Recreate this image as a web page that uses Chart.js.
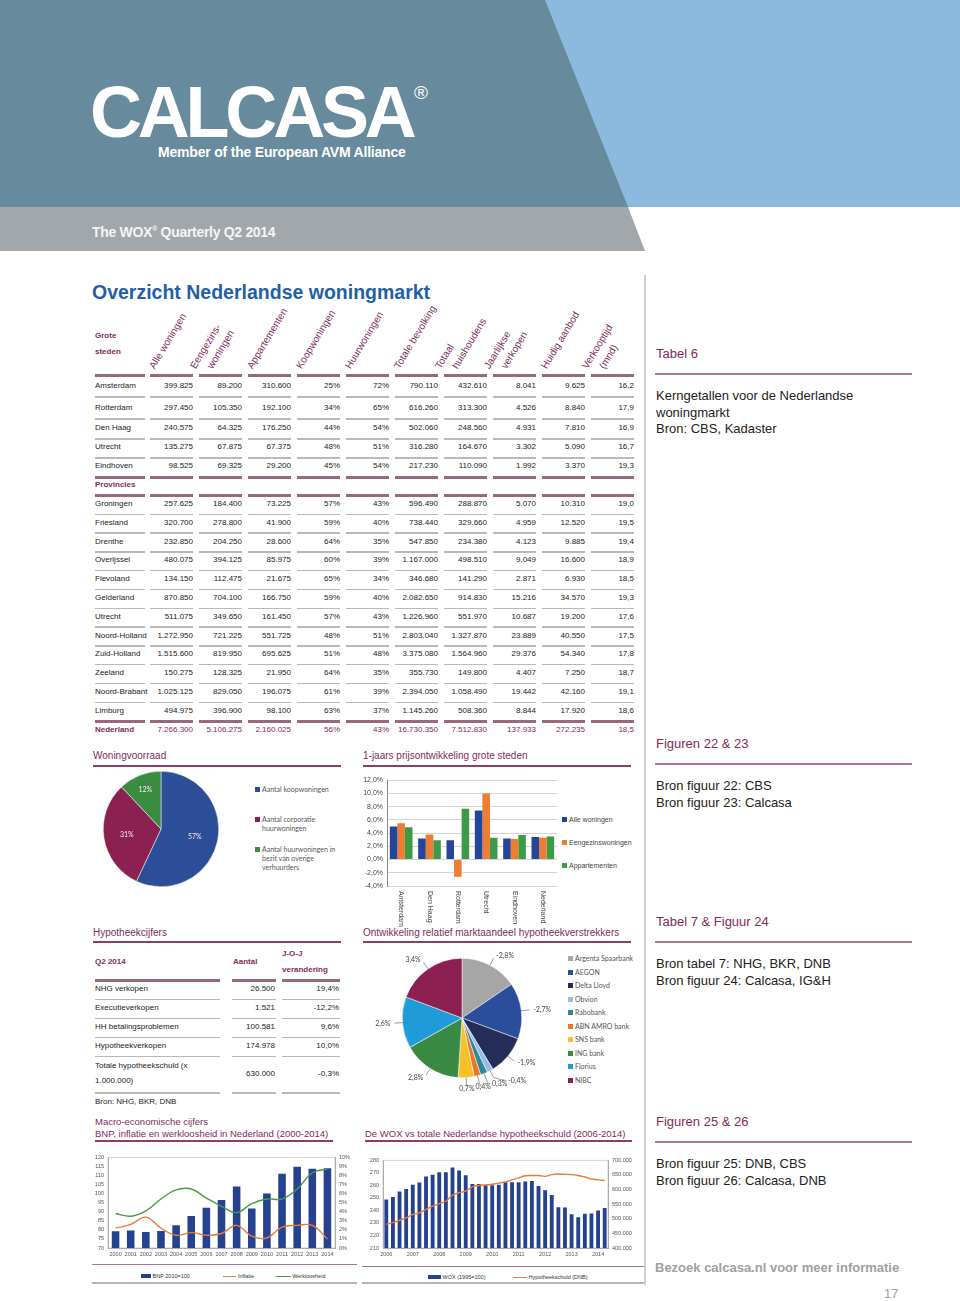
<!DOCTYPE html>
<html>
<head>
<meta charset="utf-8">
<script src="https://cdn.jsdelivr.net/npm/chart.js@4"></script>
<style>
    body { margin: 0; background: #fff; }
    #page { position: relative; width: 960px; height: 1301px; overflow: hidden; font-family: 'Liberation Sans', Arial, sans-serif; }
    .abs { position: absolute; white-space: nowrap; }
    canvas { position: absolute; }
    .purple { color: #7e2c5c; }
    .side { position: absolute; left: 656px; font-size: 13px; color: #222; line-height: 16.5px; }
    .sidehead { position: absolute; left: 656px; font-size: 13px; color: #7e2c5c; }
    .sideline { position: absolute; left: 655px; width: 257px; height: 2px; background: #b07391; }
    .sw { display: inline-block; width: 5px; height: 5px; margin-right: 2px; vertical-align: 0px; }
</style>
</head>
<body>
<div id="page">
    <!-- header -->
    <div class="abs" style="left:0;top:0;width:960px;height:207px;background:#678a9c;"></div>
    <div class="abs" style="left:0;top:0;width:960px;height:207px;background:#8bbade;clip-path:polygon(545px 0,960px 0,960px 207px,628px 207px);"></div>
    <div class="abs" style="left:0;top:207px;width:960px;height:44px;background:#a1a7aa;clip-path:polygon(0 0,628px 0,645px 44px,0 44px);"></div>
    <div class="abs" style="left:90px;top:84px;font-size:72px;font-weight:bold;color:#fff;letter-spacing:-4.2px;line-height:56px;height:56px;">CALCASA</div>
    <div class="abs" style="left:414px;top:83px;font-size:19px;color:#fff;line-height:20px;">®</div>
    <div class="abs" style="left:158px;top:144px;font-size:14px;font-weight:bold;color:#fff;line-height:16px;letter-spacing:-0.2px;">Member of the European AVM Alliance</div>
    <div class="abs" style="left:92px;top:220px;font-size:14px;font-weight:bold;color:#f5f5f5;line-height:18px;letter-spacing:-0.3px;">The WOX<sup style="font-size:7px;">®</sup> Quarterly Q2 2014</div>

    <div class="abs" style="left:92px;top:279px;font-size:19.5px;font-weight:bold;color:#1f5fa8;line-height:26px;">Overzicht Nederlandse woningmarkt</div>

    <!-- right column -->
    <div class="abs" style="left:644px;top:275px;width:2px;height:1010px;background:#d0d0d0;"></div>
    <div class="sidehead" style="top:346px;">Tabel 6</div>
    <div class="sideline" style="top:373px;"></div>
    <div class="side" style="top:388px;">Kerngetallen voor de Nederlandse<br>woningmarkt<br>Bron: CBS, Kadaster</div>
    <div class="sidehead" style="top:736px;">Figuren 22 &amp; 23</div>
    <div class="sideline" style="top:763px;"></div>
    <div class="side" style="top:778px;">Bron figuur 22: CBS<br>Bron figuur 23: Calcasa</div>
    <div class="sidehead" style="top:914px;">Tabel 7 &amp; Figuur 24</div>
    <div class="sideline" style="top:941px;"></div>
    <div class="side" style="top:956px;">Bron tabel 7: NHG, BKR, DNB<br>Bron figuur 24: Calcasa, IG&amp;H</div>
    <div class="sidehead" style="top:1114px;">Figuren 25 &amp; 26</div>
    <div class="sideline" style="top:1141px;"></div>
    <div class="side" style="top:1156px;">Bron figuur 25: DNB, CBS<br>Bron figuur 26: Calcasa, DNB</div>
    <div class="abs" style="left:655px;top:1260px;font-size:13px;font-weight:bold;color:#a0a0a0;">Bezoek calcasa.nl voor meer informatie</div>
    <div class="abs" style="left:884px;top:1286px;font-size:13px;color:#a0a0a0;">17</div>

    <!-- section titles -->
    <div class="abs purple" style="left:93px;top:750px;font-size:10px;">Woningvoorraad</div>
    <div class="abs" style="left:93px;top:765px;width:248px;height:2px;background:#8e3d68;"></div>
    <div class="abs purple" style="left:363px;top:750px;font-size:10px;">1-jaars prijsontwikkeling grote steden</div>
    <div class="abs" style="left:363px;top:765px;width:268px;height:2px;background:#8e3d68;"></div>
    <div class="abs purple" style="left:93px;top:927px;font-size:10px;">Hypotheekcijfers</div>
    <div class="abs" style="left:93px;top:941px;width:248px;height:2px;background:#8e3d68;"></div>
    <div class="abs purple" style="left:363px;top:927px;font-size:10px;">Ontwikkeling relatief marktaandeel hypotheekverstrekkers</div>
    <div class="abs" style="left:363px;top:941px;width:268px;height:2px;background:#8e3d68;"></div>
    <div class="abs purple" style="left:95px;top:1116px;font-size:9.5px;line-height:12px;">Macro-economische cijfers<br>BNP, inflatie en werkloosheid in Nederland (2000-2014)</div>
    <div class="abs" style="left:95px;top:1140px;width:238px;height:2px;background:#8e3d68;"></div>
    <div class="abs purple" style="left:365px;top:1128px;font-size:9.5px;line-height:12px;">De WOX vs totale Nederlandse hypotheekschuld (2006-2014)</div>
    <div class="abs" style="left:365px;top:1140px;width:267px;height:2px;background:#8e3d68;"></div>

    <!-- chart legends -->
    <div class="abs" style="left:255px;top:785px;font-family:Lato,sans-serif;font-size:7px;color:#555;line-height:9px;">
        <div><span class="sw" style="background:#2c4d98"></span>Aantal koopwoningen</div>
        <div style="margin-top:21px;"><span class="sw" style="background:#8c2051"></span>Aantal corporatie<br><span style="padding-left:7px">huurwoningen</span></div>
        <div style="margin-top:12px;"><span class="sw" style="background:#3a8c41"></span>Aantal huurwoningen in<br><span style="padding-left:7px">bezit van overige</span><br><span style="padding-left:7px">verhuurders</span></div>
    </div>
    <div class="abs" style="left:562px;top:814px;font-size:7px;color:#444;line-height:11px;">
        <div><span class="sw" style="background:#24459a"></span>Alle woningen</div>
        <div style="margin-top:12px;"><span class="sw" style="background:#ee7d32"></span>Eengezinswoningen</div>
        <div style="margin-top:12px;"><span class="sw" style="background:#3d9a47"></span>Appartementen</div>
    </div>
    <div id="bankLegend" class="abs" style="left:568px;top:952px;font-family:Lato,sans-serif;font-size:7px;color:#555;line-height:13.5px;"></div>

    <div class="abs" style="left:92px;top:1264px;width:265px;height:1px;background:#a47a8f;"></div>
    <div class="abs" style="left:92px;top:1282px;width:265px;height:1.5px;background:#b5b5b5;"></div>
    <div class="abs" style="left:141px;top:1272px;font-size:5.5px;color:#333;line-height:8px;">
        <span style="display:inline-block;width:10px;height:4px;background:#25418f;vertical-align:0;"></span> BNP 2010=100
        <span style="display:inline-block;width:13px;height:1.5px;background:#e87b35;vertical-align:1px;margin-left:32px;"></span> Inflatie
        <span style="display:inline-block;width:15px;height:1.5px;background:#4a9a44;vertical-align:1px;margin-left:20px;"></span> Werkloosheid
    </div>
    <div class="abs" style="left:362px;top:1266px;width:282px;height:1px;background:#a47a8f;"></div>
    <div class="abs" style="left:362px;top:1282px;width:282px;height:1.5px;background:#b5b5b5;"></div>
    <div class="abs" style="left:428px;top:1273px;font-size:5.5px;color:#333;line-height:8px;">
        <span style="display:inline-block;width:13px;height:4px;background:#25418f;vertical-align:0;"></span> WOX (1995=100)
        <span style="display:inline-block;width:14px;height:1.5px;background:#e87b35;vertical-align:1px;margin-left:26px;"></span> Hypotheekschuld (DNB)
    </div>

    <canvas id="stockChart" width="130" height="130" style="left:96px;top:764px;"></canvas>
    <canvas id="priceChart" width="212" height="158" style="left:345px;top:772px;"></canvas>
    <canvas id="bankChart" width="200" height="160" style="left:362px;top:938px;"></canvas>
    <canvas id="macroChart" width="270" height="110" style="left:88px;top:1150px;"></canvas>
    <canvas id="woxChart" width="290" height="107" style="left:355px;top:1153px;"></canvas>
</div>

<script>
// Tabel 6
const tableHeaders = [['Alle woningen'], ['Eengezins-', 'woningen'], ['Appartementen'], ['Koopwoningen'], ['Huurwoningen'],
    ['Totale bevolking'], ['Totaal', 'huishoudens'], ['Jaarlijkse', 'verkopen'], ['Huidig aanbod'], ['Verkooptijd', '(mnd)']];
const cityRows = [
    ['Amsterdam', '399.825', '89.200', '310.600', '25%', '72%', '790.110', '432.610', '8.041', '9.625', '16,2'],
    ['Rotterdam', '297.450', '105.350', '192.100', '34%', '65%', '616.260', '313.300', '4.526', '8.840', '17,9'],
    ['Den Haag', '240.575', '64.325', '176.250', '44%', '54%', '502.060', '248.560', '4.931', '7.810', '16,9'],
    ['Utrecht', '135.275', '67.875', '67.375', '48%', '51%', '316.280', '164.670', '3.302', '5.090', '16,7'],
    ['Eindhoven', '98.525', '69.325', '29.200', '45%', '54%', '217.230', '110.090', '1.992', '3.370', '19,3']
];
const provinceRows = [
    ['Groningen', '257.625', '184.400', '73.225', '57%', '43%', '596.490', '288.870', '5.070', '10.310', '19,0'],
    ['Friesland', '320.700', '278.800', '41.900', '59%', '40%', '738.440', '329.660', '4.959', '12.520', '19,5'],
    ['Drenthe', '232.850', '204.250', '28.600', '64%', '35%', '547.850', '234.380', '4.123', '9.885', '19,4'],
    ['Overijssel', '480.075', '394.125', '85.975', '60%', '39%', '1.167.000', '498.510', '9.049', '16.600', '18,9'],
    ['Flevoland', '134.150', '112.475', '21.675', '65%', '34%', '346.680', '141.290', '2.871', '6.930', '18,5'],
    ['Gelderland', '870.850', '704.100', '166.750', '59%', '40%', '2.082.650', '914.830', '15.216', '34.570', '19,3'],
    ['Utrecht', '511.075', '349.650', '161.450', '57%', '43%', '1.226.960', '551.970', '10.687', '19.200', '17,6'],
    ['Noord-Holland', '1.272.950', '721.225', '551.725', '48%', '51%', '2.803.040', '1.327.870', '23.889', '40.550', '17,5'],
    ['Zuid-Holland', '1.515.600', '819.950', '695.625', '51%', '48%', '3.375.080', '1.564.960', '29.376', '54.340', '17,8'],
    ['Zeeland', '150.275', '128.325', '21.950', '64%', '35%', '355.730', '149.800', '4.407', '7.250', '18,7'],
    ['Noord-Brabant', '1.025.125', '829.050', '196.075', '61%', '39%', '2.394.050', '1.058.490', '19.442', '42.160', '19,1'],
    ['Limburg', '494.975', '396.900', '98.100', '63%', '37%', '1.145.260', '508.360', '8.844', '17.920', '18,6']
];
const totalRow = ['Nederland', '7.266.300', '5.106.275', '2.160.025', '56%', '43%', '16.730.350', '7.512.830', '137.933', '272.235', '18,5'];

// Tabel 7
const mortgageRows = [
    ['NHG verkopen', '26.500', '19,4%'],
    ['Executieverkopen', '1.521', '-12,2%'],
    ['HH betalingsproblemen', '100.581', '9,6%'],
    ['Hypotheekverkopen', '174.978', '10,0%']
];

// Figuur 22: woningvoorraad
const stockLabels = ['Aantal koopwoningen', 'Aantal corporatie huurwoningen', 'Aantal huurwoningen in bezit van overige verhuurders'];
const stockShares = [57, 31, 12];

// Figuur 23: 1-jaars prijsontwikkeling
const cities = ['Amsterdam', 'Den Haag', 'Rotterdam', 'Utrecht', 'Eindhoven', 'Nederland'];
const priceAll = [5.0, 3.2, 2.9, 7.4, 3.2, 3.4];
const priceHouses = [5.5, 3.8, -2.6, 10.0, 3.1, 3.3];
const priceApartments = [4.9, 2.9, 7.7, 3.3, 3.7, 3.5];

// Figuur 24: marktaandeel hypotheekverstrekkers
const banks = ['Argenta Spaarbank', 'AEGON', 'Delta Lloyd', 'Obvion', 'Rabobank', 'ABN AMRO bank', 'SNS bank', 'ING bank', 'Florius', 'NIBC'];
const bankShares = [15.5, 15.2, 10.7, 1.7, 1.9, 1.8, 4.3, 15.8, 13.9, 19.3];
const bankChanges = ['-2,8%', '-2,7%', '-1,9%', '-0,4%', '0,3%', '0,4%', '0,7%', '2,8%', '2,6%', '3,4%'];
const bankColors = ['#a6a6a6', '#2a4d9c', '#232d57', '#95bfe2', '#2f8797', '#e8772e', '#f6c12a', '#3a8a44', '#1f9bd7', '#8c2051'];

// Figuur 25: macro-economische cijfers
const macroYears = ['2000', '2001', '2002', '2003', '2004', '2005', '2006', '2007', '2008', '2009', '2010', '2011', '2012', '2013', '2014'];
const bnp = [79.2, 79.7, 78.8, 79.4, 82.5, 87.7, 92.2, 96.5, 103.9, 91.8, 100.0, 111.0, 114.8, 113.7, 113.9];
const inflatie = [2.2, 2.6, 3.4, 2.2, 1.4, 1.7, 1.4, 1.6, 2.5, 1.3, 1.1, 2.3, 2.5, 2.5, 1.0];
const werkloosheid = [3.8, 3.5, 4.1, 5.4, 6.4, 6.5, 5.5, 4.6, 3.9, 4.9, 5.4, 5.4, 6.5, 8.3, 8.7];

// Figuur 26: WOX vs hypotheekschuld (kwartalen 2006 Q1 - 2014 Q2)
const woxYears = ['2006', '2007', '2008', '2009', '2010', '2011', '2012', '2013', '2014'];
const wox = [248.7, 250.8, 255.1, 257.0, 260.4, 262.3, 267.0, 268.4, 270.5, 270.5, 274.2, 271.8,
    268.1, 261.0, 261.0, 260.0, 260.0, 260.5, 262.5, 262.5, 262.5, 263.0, 263.5, 259.5,
    256.0, 252.3, 242.5, 242.3, 237.0, 234.5, 237.3, 237.5, 240.0, 242.0];
const hypotheekschuld = [481, 487, 495, 503, 515, 520, 532, 543, 552, 560, 581, 589,
    595, 609, 614, 616, 618, 622, 626, 633, 640, 647, 648, 648,
    645, 651, 653, 652, 651, 648, 643, 636, 633, 631];

const page = document.getElementById('page');
const purple = '#7e2c5c';

function put(txt, x, y, css, right) {
    const d = document.createElement('div');
    d.className = 'abs';
    d.textContent = txt;
    d.style.cssText += 'font-size:8px;color:#222;height:14px;line-height:14px;top:' + (y - 7) + 'px;' + (css || '');
    if (right) d.style.right = (960 - x) + 'px'; else d.style.left = x + 'px';
    page.appendChild(d);
}
function bar(x1, x2, y, h, color) {
    const d = document.createElement('div');
    d.className = 'abs';
    d.style.cssText = 'left:' + x1 + 'px;top:' + y + 'px;width:' + (x2 - x1) + 'px;height:' + h + 'px;background:' + color;
    page.appendChild(d);
}

// table 6 layout
const colRight = [193, 242, 291, 340, 389, 438, 487, 536, 585, 634];
function rowLine(y, thick) {
    const h = thick ? 2.5 : 1.5, c = thick ? '#98687f' : '#b9b9b9';
    bar(95, 145, y, h, c);
    colRight.forEach(r => bar(r - 43, r, y, h, c));
}
function dataRow(row, y, css, labelCss) {
    put(row[0], 95, y, labelCss || css);
    row.slice(1).forEach((v, i) => put(v, colRight[i], y, css, true));
}

put('Grote', 95, 336, 'font-weight:bold;color:' + purple);
put('steden', 95, 352, 'font-weight:bold;color:' + purple);
tableHeaders.forEach((lines, i) => {
    const left = colRight[i] - 43;
    lines.forEach((t, k) => {
        const d = document.createElement('div');
        d.className = 'abs';
        d.textContent = t;
        const x = lines.length === 1 ? left + 7 : left - 1 + k * 17;
        d.style.cssText = 'left:' + x + 'px;top:' + (371 - 12) + 'px;height:12px;line-height:12px;font-size:10px;color:' + purple +
            ';transform-origin:0 100%;transform:rotate(-59deg);';
        page.appendChild(d);
    });
});
rowLine(374, true);
const cityY = [386, 408, 428, 447, 466];
cityRows.forEach((row, i) => {
    dataRow(row, cityY[i]);
    rowLine(cityY[i] + 10, i === cityRows.length - 1);
});
put('Provincies', 95, 485, 'font-weight:bold;color:' + purple);
rowLine(494, true);
provinceRows.forEach((row, i) => {
    const y = 504 + i * 18.8;
    dataRow(row, y);
    rowLine(y + 9.5, i === provinceRows.length - 1);
});
dataRow(totalRow, 730, 'color:' + purple, 'font-weight:bold;color:' + purple);

// table 7 layout
put('Q2 2014', 95, 962, 'font-weight:bold;color:' + purple);
put('Aantal', 233, 962, 'font-weight:bold;color:' + purple);
put('J-O-J', 282, 954, 'font-weight:bold;color:' + purple);
put('verandering', 282, 970, 'font-weight:bold;color:' + purple);
function mLine(y, thick) {
    const h = thick ? 2.5 : 1.5, c = thick ? '#98687f' : '#b9b9b9';
    bar(95, 220, y, h, c); bar(232, 276, y, h, c); bar(282, 340, y, h, c);
}
mLine(979, true);
mortgageRows.forEach((r, i) => {
    const y = 989 + i * 19;
    put(r[0], 95, y);
    put(r[1], 275, y, '', true);
    put(r[2], 339, y, '', true);
    mLine(y + 9.5);
});
put('Totale hypotheekschuld (x', 95, 1066);
put('1.000.000)', 95, 1081);
put('630.000', 275, 1074, '', true);
put('-0,3%', 339, 1074, '', true);
mLine(1092);
put('Bron: NHG, BKR, DNB', 95, 1102);

// bank legend
document.getElementById('bankLegend').innerHTML = banks.map((b, i) =>
    '<div><span class="sw" style="background:' + bankColors[i] + '"></span>' + b + '</div>').join('');

// charts
Chart.defaults.font.family = "'Liberation Sans', Arial, sans-serif";
Chart.defaults.color = '#444';
Chart.defaults.animation = false;
Chart.defaults.responsive = false;
Chart.defaults.devicePixelRatio = 1;
Chart.defaults.plugins.legend.display = false;
Chart.defaults.plugins.tooltip.enabled = false;

const fmtPct = v => v.toFixed(1).replace('.', ',') + '%';
const thousands = v => v.toFixed(0).replace(/\B(?=(\d{3})+(?!\d))/g, '.');

const insideLabels = {
    id: 'insideLabels',
    afterDatasetsDraw(chart) {
        const ctx = chart.ctx;
        ctx.save();
        ctx.font = '7px Lato';
        ctx.fillStyle = '#eeeeee';
        ctx.textAlign = 'center';
        ctx.textBaseline = 'middle';
        chart.getDatasetMeta(0).data.forEach((a, i) => {
            const mid = (a.startAngle + a.endAngle) / 2;
            const r = a.outerRadius * (i === 2 ? 0.74 : 0.6);
            ctx.fillText(stockShares[i] + '%', a.x + Math.cos(mid) * r, a.y + Math.sin(mid) * r);
        });
        ctx.restore();
    }
};

new Chart(document.getElementById('stockChart'), {
    type: 'pie',
    data: {
        labels: stockLabels,
        datasets: [{ data: stockShares, backgroundColor: ['#2c4d98', '#8c2051', '#3a8c41'], borderColor: '#fff', borderWidth: 0.5 }]
    },
    options: { layout: { padding: 7 } },
    plugins: [insideLabels]
});

const verticalCategories = {
    id: 'verticalCategories',
    afterDraw(chart) {
        const ctx = chart.ctx, xs = chart.scales.x;
        ctx.save();
        ctx.font = '7px "Liberation Sans"';
        ctx.fillStyle = '#444';
        ctx.textAlign = 'left';
        ctx.textBaseline = 'middle';
        cities.forEach((c, i) => {
            ctx.save();
            ctx.translate(xs.getPixelForValue(i), chart.chartArea.bottom + 5);
            ctx.rotate(Math.PI / 2);
            ctx.fillText(c, 0, 0);
            ctx.restore();
        });
        ctx.restore();
    }
};

new Chart(document.getElementById('priceChart'), {
    type: 'bar',
    data: {
        labels: cities,
        datasets: [
            { label: 'Alle woningen', data: priceAll, backgroundColor: '#24459a' },
            { label: 'Eengezinswoningen', data: priceHouses, backgroundColor: '#ee7d32' },
            { label: 'Appartementen', data: priceApartments, backgroundColor: '#3d9a47' }
        ]
    },
    options: {
        layout: { padding: { top: 5, bottom: 44, right: 0 } },
        datasets: { bar: { categoryPercentage: 0.8, barPercentage: 1 } },
        scales: {
            x: { display: false },
            y: {
                min: -4, max: 12,
                afterFit: s => { s.width = 42; },
                ticks: { stepSize: 2, callback: fmtPct, font: { size: 7 }, color: '#444', padding: 4 },
                grid: { color: '#d4d4d4', drawTicks: false },
                border: { color: '#888' }
            }
        }
    },
    plugins: [verticalCategories]
});

const outsideLabels = {
    id: 'outsideLabels',
    afterDatasetsDraw(chart) {
        const ctx = chart.ctx;
        const arcs = chart.getDatasetMeta(0).data;
        const placed = [];
        ctx.save();
        ctx.font = '7px Lato';
        ctx.fillStyle = '#444';
        ctx.strokeStyle = '#555';
        ctx.lineWidth = 0.6;
        ctx.textBaseline = 'middle';
        for (let i = arcs.length - 1; i >= 0; i--) {
            const a = arcs[i];
            const mid = (a.startAngle + a.endAngle) / 2;
            const cos = Math.cos(mid), sin = Math.sin(mid);
            const w = ctx.measureText(bankChanges[i]).width;
            const align = cos > 0.3 ? 'left' : (cos < -0.3 ? 'right' : 'center');
            const r = a.outerRadius + 11;
            let x = a.x + cos * r, y = a.y + sin * r, shift = 0;
            const box = () => {
                const left = align === 'left' ? x + shift : align === 'right' ? x + shift - w : x + shift - w / 2;
                return { left: left, right: left + w, top: y - 4, bottom: y + 4 };
            };
            let b = box();
            while (placed.some(p => !(b.right < p.left || b.left > p.right || b.bottom < p.top || b.top > p.bottom))) {
                shift += cos >= 0 ? 3 : -3;
                b = box();
            }
            placed.push(b);
            ctx.beginPath();
            ctx.moveTo(a.x + cos * a.outerRadius, a.y + sin * a.outerRadius);
            ctx.lineTo(a.x + cos * (r - 3), a.y + sin * (r - 3));
            if (shift !== 0) ctx.lineTo(x + shift - (shift > 0 ? 2 : -2), y);
            ctx.stroke();
            ctx.textAlign = align;
            ctx.fillText(bankChanges[i], x + shift + (align === 'left' ? 1 : align === 'right' ? -1 : 0), y);
        }
        ctx.restore();
    }
};

new Chart(document.getElementById('bankChart'), {
    type: 'pie',
    data: {
        labels: banks,
        datasets: [{ data: bankShares, backgroundColor: bankColors, borderColor: '#fff', borderWidth: 0.5 }]
    },
    options: { layout: { padding: { left: 40, right: 40, top: 20, bottom: 20 } } },
    plugins: [outsideLabels]
});

const plotFrame = {
    id: 'plotFrame',
    beforeDatasetsDraw(chart) {
        const { ctx, chartArea: a } = chart;
        ctx.save();
        ctx.strokeStyle = '#c8c8c8';
        ctx.lineWidth = 0.8;
        ctx.strokeRect(a.left, a.top, a.right - a.left, a.bottom - a.top);
        ctx.restore();
    }
};

const smallTicks = { font: { size: 5.5 }, color: '#555', autoSkip: false };
const noGrid = { display: false, drawTicks: false };

new Chart(document.getElementById('macroChart'), {
    type: 'bar',
    data: {
        labels: macroYears,
        datasets: [
            { label: 'BNP 2010=100', data: bnp, backgroundColor: '#25418f', yAxisID: 'y', order: 2,
              categoryPercentage: 1, barPercentage: 0.5 },
            { label: 'Inflatie', type: 'line', data: inflatie, borderColor: '#e87b35', borderWidth: 1.4,
              pointRadius: 0, tension: 0.4, yAxisID: 'y1', order: 1 },
            { label: 'Werkloosheid', type: 'line', data: werkloosheid, borderColor: '#4a9a44', borderWidth: 1.4,
              pointRadius: 0, tension: 0.4, yAxisID: 'y1', order: 1 }
        ]
    },
    options: {
        layout: { padding: { top: 6, right: 0 } },
        scales: {
            x: {
                afterFit: s => { s.height = 12; },
                ticks: Object.assign({ maxRotation: 0, padding: 3 }, smallTicks),
                grid: noGrid,
                border: { color: '#999' }
            },
            y: {
                min: 70, max: 120,
                afterFit: s => { s.width = 20; },
                ticks: Object.assign({ stepSize: 5, padding: 4 }, smallTicks),
                grid: noGrid,
                border: { color: '#999' }
            },
            y1: {
                position: 'right',
                min: 0, max: 10,
                afterFit: s => { s.width = 23; },
                ticks: Object.assign({ stepSize: 1, padding: 4, callback: v => v + '%' }, smallTicks),
                grid: noGrid,
                border: { color: '#999' }
            }
        }
    },
    plugins: [plotFrame]
});

const woxLabels = [];
woxYears.forEach(y => { for (let q = 1; q <= 4; q++) woxLabels.push(y + ' Q' + q); });
woxLabels.length = wox.length;

new Chart(document.getElementById('woxChart'), {
    type: 'bar',
    data: {
        labels: woxLabels,
        datasets: [
            { label: 'WOX (1995=100)', data: wox, backgroundColor: '#25418f', yAxisID: 'y', order: 2,
              categoryPercentage: 1, barPercentage: 0.58 },
            { label: 'Hypotheekschuld (DNB)', type: 'line', data: hypotheekschuld.map(v => v * 1000),
              borderColor: '#e87b35', borderWidth: 1.4, pointRadius: 0, tension: 0.3, yAxisID: 'y1', order: 1 }
        ]
    },
    options: {
        layout: { padding: { top: 7, right: 0 } },
        scales: {
            x: {
                afterFit: s => { s.height = 12; },
                ticks: Object.assign({
                    maxRotation: 0, padding: 3,
                    callback: function(v) { const l = this.getLabelForValue(v); return l.endsWith('Q1') ? l.slice(0, 4) : ''; }
                }, smallTicks),
                grid: noGrid,
                border: { color: '#999' }
            },
            y: {
                min: 210, max: 280,
                afterFit: s => { s.width = 28; },
                ticks: Object.assign({ stepSize: 10, padding: 4 }, smallTicks),
                grid: noGrid,
                border: { color: '#999' }
            },
            y1: {
                position: 'right',
                min: 400000, max: 700000,
                afterFit: s => { s.width = 37; },
                ticks: Object.assign({ stepSize: 50000, padding: 4, callback: thousands }, smallTicks),
                grid: noGrid,
                border: { color: '#999' }
            }
        }
    },
    plugins: [plotFrame]
});
</script>
</body>
</html>
